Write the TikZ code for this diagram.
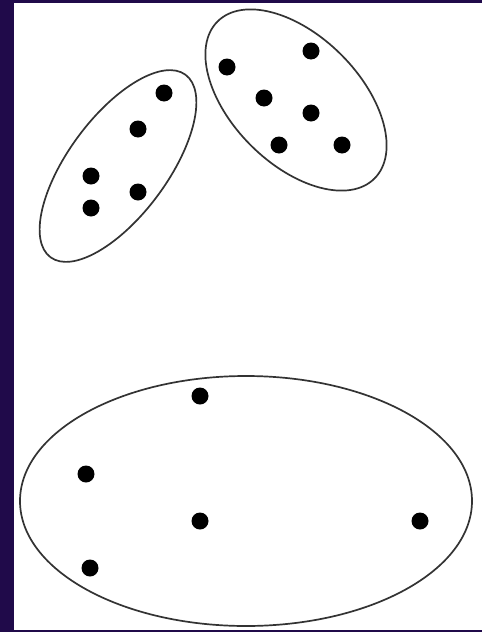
\documentclass[tikz,border=0pt]{standalone}
\definecolor{bandnavy}{RGB}{32,10,74}
\tikzset{
  dot/.style={circle,fill=black,inner sep=0pt,minimum size=17pt},
  cluster/.style={draw=black!80,line width=1.7pt}
}
\begin{document}
\begin{tikzpicture}[x=1pt,y=-1pt]
\useasboundingbox (0,0) rectangle (482,632);
\fill[white] (0,0) rectangle (482,632);
\fill[bandnavy] (0,0) rectangle (14,632);
\fill[bandnavy] (0,0) rectangle (482,2.5);
\fill[bandnavy] (0,629.5) rectangle (482,632);
% clusters
\draw[cluster] (118,166) ellipse[x radius=113.5, y radius=49.5, rotate=53.5];
\draw[cluster] (296,100) ellipse[x radius=111, y radius=64, rotate=-45];
\draw[cluster] (246,501) ellipse[x radius=226, y radius=125];
% cluster 1 points
\node[dot] (a1) at (164,93) {};
\node[dot] (a2) at (138,129) {};
\node[dot] (a3) at (91,176) {};
\node[dot] (a4) at (138,192) {};
\node[dot] (a5) at (91,208) {};
% cluster 2 points
\node[dot] (b1) at (227,67) {};
\node[dot] (b2) at (311,51) {};
\node[dot] (b3) at (264,98) {};
\node[dot] (b4) at (311,113) {};
\node[dot] (b5) at (279,145) {};
\node[dot] (b6) at (342,145) {};
% cluster 3 points
\node[dot] (c1) at (200,396) {};
\node[dot] (c2) at (86,474) {};
\node[dot] (c3) at (200,521) {};
\node[dot] (c4) at (420,521) {};
\node[dot] (c5) at (90,568) {};
\end{tikzpicture}
\end{document}
